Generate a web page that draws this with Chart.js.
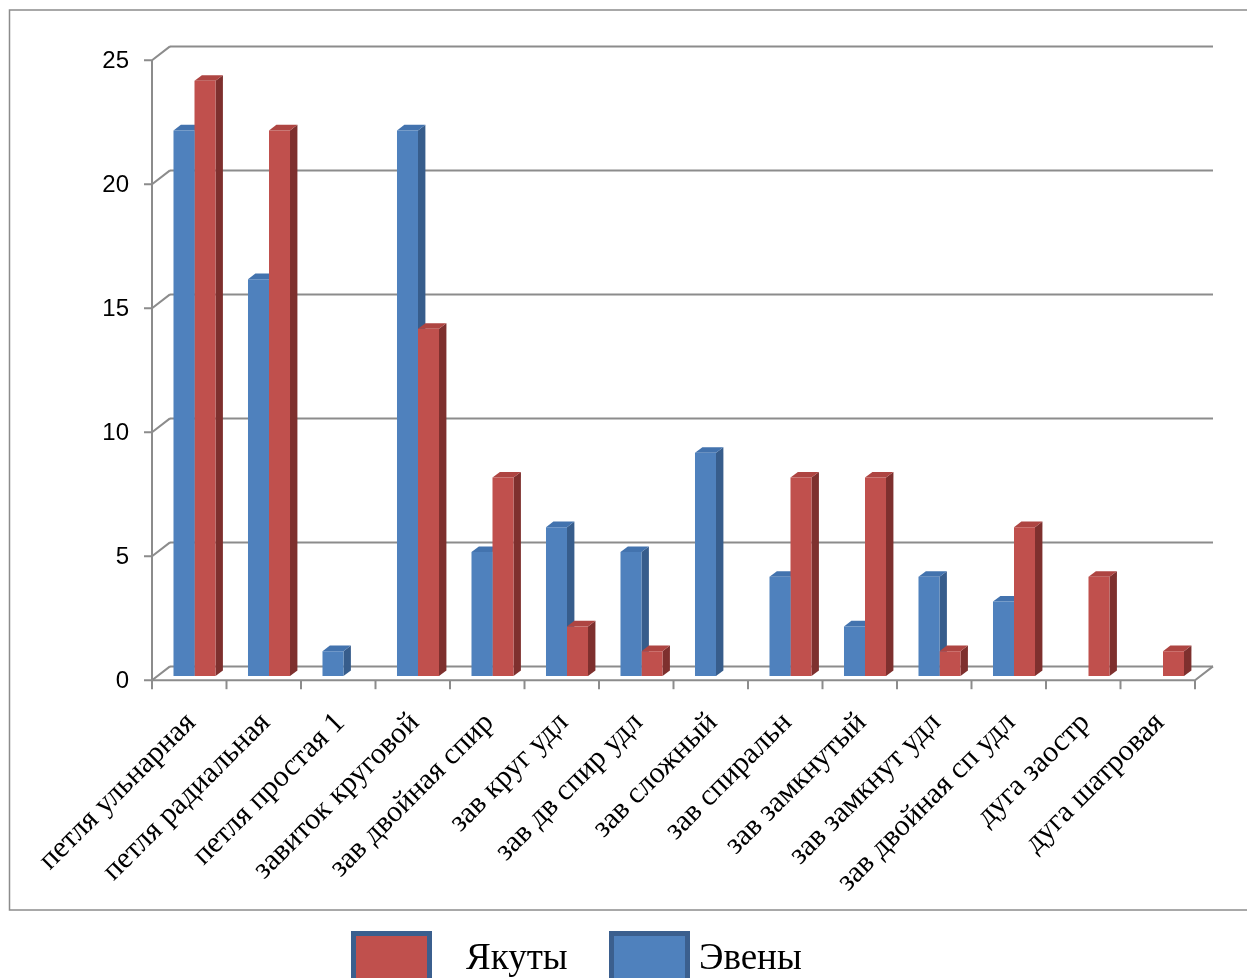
<!DOCTYPE html>
<html>
<head>
<meta charset="utf-8">
<script src="https://cdn.jsdelivr.net/npm/chart.js@4/dist/chart.umd.min.js"></script>
<style>
  html, body { margin: 0; padding: 0; background: #fff; overflow: hidden; }
  #chart { display: block; }
</style>
</head>
<body>
<canvas id="chart" width="1247" height="978"></canvas>
<script>
// данные
var categories = ['петля ульнарная', 'петля радиальная', 'петля простая 1', 'завиток круговой',
  'зав двойная спир', 'зав круг удл', 'зав дв спир удл', 'зав сложный', 'зав спиральн',
  'зав замкнутый', 'зав замкнут удл', 'зав двойная сп удл', 'дуга заостр', 'дуга шатровая'];
var evenyValues = [22, 16, 1, 22, 5, 6, 5, 9, 4, 2, 4, 3, 0, 0];
var yakutyValues = [24, 22, 0, 14, 8, 2, 1, 0, 8, 8, 1, 6, 4, 1];
var yTicks = [0, 5, 10, 15, 20, 25];

// 3D смещения относительно передней грани столбцов
var FRONT = { dx: -5.25, dy: 4.2 };
var BACK = { dx: 12.75, dy: -9.6 };
var DEPTH = { dx: 7.4, dy: -5.6 };

var faces = {
  'Эвены': { top: '#4373AE', side: '#375D8C' },
  'Якуты': { top: '#AE4542', side: '#7E302E' }
};

var gridColor = '#8C8C8C';

var threeD = {
  id: 'threeD',
  beforeDatasetsDraw: function(chart){
    var ctx = chart.ctx;
    var xs = chart.scales.x, ys = chart.scales.y;
    var area = chart.chartArea;
    var catW = (area.right - area.left) / categories.length;
    ctx.save();
    ctx.strokeStyle = gridColor;
    ctx.lineWidth = 2;
    // задняя стенка и левая стенка
    yTicks.forEach(function(v){
      var y = ys.getPixelForValue(v);
      ctx.beginPath();
      ctx.moveTo(area.left + BACK.dx, y + BACK.dy);
      ctx.lineTo(area.right + BACK.dx, y + BACK.dy);
      ctx.stroke();
      ctx.beginPath();
      ctx.moveTo(area.left + FRONT.dx - 8, y + FRONT.dy);
      ctx.lineTo(area.left + FRONT.dx, y + FRONT.dy);
      ctx.lineTo(area.left + BACK.dx, y + BACK.dy);
      ctx.stroke();
    });
    var y0 = ys.getPixelForValue(0), y25 = ys.getPixelForValue(25);
    ctx.beginPath();
    ctx.moveTo(area.left + FRONT.dx, y25 + FRONT.dy);
    ctx.lineTo(area.left + FRONT.dx, y0 + FRONT.dy);
    ctx.lineTo(area.right + FRONT.dx, y0 + FRONT.dy);
    ctx.lineTo(area.right + BACK.dx, y0 + BACK.dy);
    ctx.stroke();
    // деления по оси категорий
    for(var i=0; i<=categories.length; i++){
      var x = xs.getPixelForValue(0) - catW/2 + i*catW + FRONT.dx;
      ctx.beginPath();
      ctx.moveTo(x, y0 + FRONT.dy);
      ctx.lineTo(x, y0 + FRONT.dy + 9);
      ctx.stroke();
    }
    // боковые и верхние грани столбцов
    for(var c=0; c<categories.length; c++){
      chart.data.datasets.forEach(function(ds, di){
        if(!ds.data[c]) return;
        var bar = chart.getDatasetMeta(di).data[c];
        var l = bar.x - bar.width/2, r = bar.x + bar.width/2;
        var t = bar.y, b = bar.base;
        ctx.fillStyle = faces[ds.label].side;
        ctx.beginPath();
        ctx.moveTo(r, b); ctx.lineTo(r, t);
        ctx.lineTo(r + DEPTH.dx, t + DEPTH.dy);
        ctx.lineTo(r + DEPTH.dx, b + DEPTH.dy);
        ctx.closePath(); ctx.fill();
        ctx.fillStyle = faces[ds.label].top;
        ctx.beginPath();
        ctx.moveTo(l, t); ctx.lineTo(r, t);
        ctx.lineTo(r + DEPTH.dx, t + DEPTH.dy);
        ctx.lineTo(l + DEPTH.dx, t + DEPTH.dy);
        ctx.closePath(); ctx.fill();
      });
    }
    ctx.restore();
  },
  afterDraw: function(chart){
    var ctx = chart.ctx;
    var xs = chart.scales.x, ys = chart.scales.y;
    var area = chart.chartArea;
    ctx.save();
    // подписи значений
    ctx.fillStyle = '#000';
    ctx.font = '24px "Liberation Sans", Arial, sans-serif';
    ctx.textAlign = 'right';
    ctx.textBaseline = 'middle';
    yTicks.forEach(function(v){
      ctx.fillText(String(v), area.left + FRONT.dx - 23, ys.getPixelForValue(v) + FRONT.dy + 1);
    });
    // подписи категорий
    ctx.font = '30px "Liberation Serif", "Times New Roman", serif';
    var y0 = ys.getPixelForValue(0) + FRONT.dy;
    categories.forEach(function(name, i){
      var cx = xs.getPixelForValue(i) + FRONT.dx;
      ctx.save();
      ctx.translate(cx + 2, y0 + 38);
      ctx.rotate(-Math.PI/4);
      ctx.textAlign = 'right';
      ctx.textBaseline = 'middle';
      ctx.fillText(name, 0, 0);
      ctx.restore();
    });
    // рамка
    ctx.strokeStyle = '#8C8C8C';
    ctx.lineWidth = 1.5;
    ctx.strokeRect(9.5, 10, 1260, 900);
    // легенда
    var items = [
      { label: 'Якуты', color: '#C0504D', x: 351, tx: 466 },
      { label: 'Эвены', color: '#4F81BD', x: 609, tx: 699 }
    ];
    ctx.font = '37px "Liberation Serif", "Times New Roman", serif';
    ctx.textAlign = 'left';
    ctx.textBaseline = 'alphabetic';
    items.forEach(function(it){
      ctx.fillStyle = '#3B5F8E';
      ctx.fillRect(it.x, 931, 81, 60);
      ctx.fillStyle = it.color;
      ctx.fillRect(it.x + 5, 936, 71, 50);
      ctx.fillStyle = '#000';
      ctx.fillText(it.label, it.tx, 969);
    });
    ctx.restore();
  }
};

new Chart(document.getElementById('chart'), {
  type: 'bar',
  data: {
    labels: categories,
    datasets: [
      { label: 'Эвены', data: evenyValues, backgroundColor: '#4F81BD', borderWidth: 0 },
      { label: 'Якуты', data: yakutyValues, backgroundColor: '#C0504D', borderWidth: 0 }
    ]
  },
  options: {
    responsive: false,
    animation: false,
    events: [],
    layout: { padding: { left: 157.25, right: 46.75, top: 56, bottom: 302 } },
    datasets: { bar: { categoryPercentage: 0.564, barPercentage: 1 } },
    scales: {
      x: { display: false },
      y: { display: false, min: 0, max: 25 }
    },
    plugins: { legend: { display: false }, tooltip: { enabled: false } }
  },
  plugins: [threeD]
});
</script>
</body>
</html>
